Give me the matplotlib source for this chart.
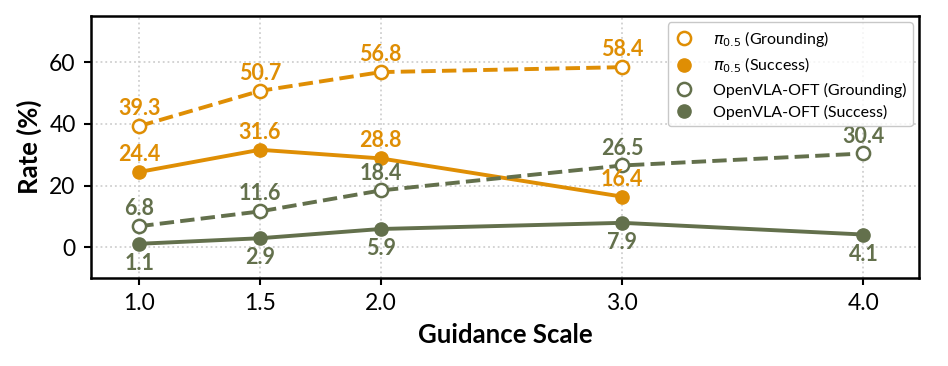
import matplotlib
matplotlib.use("Agg")
import matplotlib.pyplot as plt

plt.rcParams['font.family'] = ['Lato', 'DejaVu Sans']

x_pi = [1.0, 1.5, 2.0, 3.0]
pi_ground = [39.3, 50.7, 56.8, 58.4]
pi_success = [24.4, 31.6, 28.8, 16.4]
x_oft = [1.0, 1.5, 2.0, 3.0, 4.0]
oft_ground = [6.8, 11.6, 18.4, 26.5, 30.4]
oft_success = [1.1, 2.9, 5.9, 7.9, 4.1]
xticks = [1.0, 1.5, 2.0, 3.0, 4.0]

orange = '#DF8E04'
green = '#63704C'

fig = plt.figure(figsize=(9.48, 3.66), dpi=100)
ax = fig.add_axes([91/948, 1-278/366, (919-91)/948, (278-16)/366])

ms = 9.5
ax.plot(x_pi, pi_ground, '--', color=orange, lw=2.8, marker='o', ms=ms,
        mfc='white', mec=orange, mew=1.8, label=r'$\pi_{0.5}$ (Grounding)', zorder=3)
ax.plot(x_pi, pi_success, '-', color=orange, lw=2.8, marker='o', ms=ms,
        mfc=orange, mec=orange, label=r'$\pi_{0.5}$ (Success)', zorder=3)
ax.plot(x_oft, oft_ground, '--', color=green, lw=2.8, marker='o', ms=ms,
        mfc='white', mec=green, mew=1.8, label='OpenVLA-OFT (Grounding)', zorder=3)
ax.plot(x_oft, oft_success, '-', color=green, lw=2.8, marker='o', ms=ms,
        mfc=green, mec=green, label='OpenVLA-OFT (Success)', zorder=3)

fs = 15.5
for xi, v in zip(x_pi, pi_ground):
    ax.annotate(f'{v:.1f}', (xi, v), xytext=(0, 5), textcoords='offset points',
                ha='center', va='bottom', color=orange, fontsize=fs, fontweight='bold')
for xi, v in zip(x_pi, pi_success):
    ax.annotate(f'{v:.1f}', (xi, v), xytext=(0, 5), textcoords='offset points',
                ha='center', va='bottom', color=orange, fontsize=fs, fontweight='bold')
for xi, v in zip(x_oft, oft_ground):
    ax.annotate(f'{v:.1f}', (xi, v), xytext=(0, 5), textcoords='offset points',
                ha='center', va='bottom', color=green, fontsize=fs, fontweight='bold')
for xi, v in zip(x_oft, oft_success):
    ax.annotate(f'{v:.1f}', (xi, v), xytext=(0, -6.5), textcoords='offset points',
                ha='center', va='top', color=green, fontsize=fs, fontweight='bold')

ax.set_xlim(0.8, 4.23)
ax.set_ylim(-10, 75)
ax.set_xticks(xticks)
ax.set_xticklabels([f'{t:.1f}' for t in xticks])
ax.set_yticks([0, 20, 40, 60])
ax.tick_params(labelsize=16.5, width=1.5, length=5, pad=6)
ax.grid(True, linestyle=':', color='#d0d0d0', lw=1.3)
for s in ax.spines.values():
    s.set_linewidth(1.8)
ax.set_xlabel('Guidance Scale', fontsize=18.5, fontweight='bold', labelpad=6)
ax.set_ylabel('Rate (%)', fontsize=18.5, fontweight='bold', labelpad=5)

leg = ax.legend(loc='upper right', fontsize=11.5, handlelength=1.2,
                frameon=True, borderpad=0.4, labelspacing=0.45, handletextpad=1.2,
                borderaxespad=0.4)
for h in leg.legend_handles:
    h.set_linestyle('None')
leg.get_frame().set_edgecolor('#bbbbbb')

fig.savefig('out.png', dpi=100)
